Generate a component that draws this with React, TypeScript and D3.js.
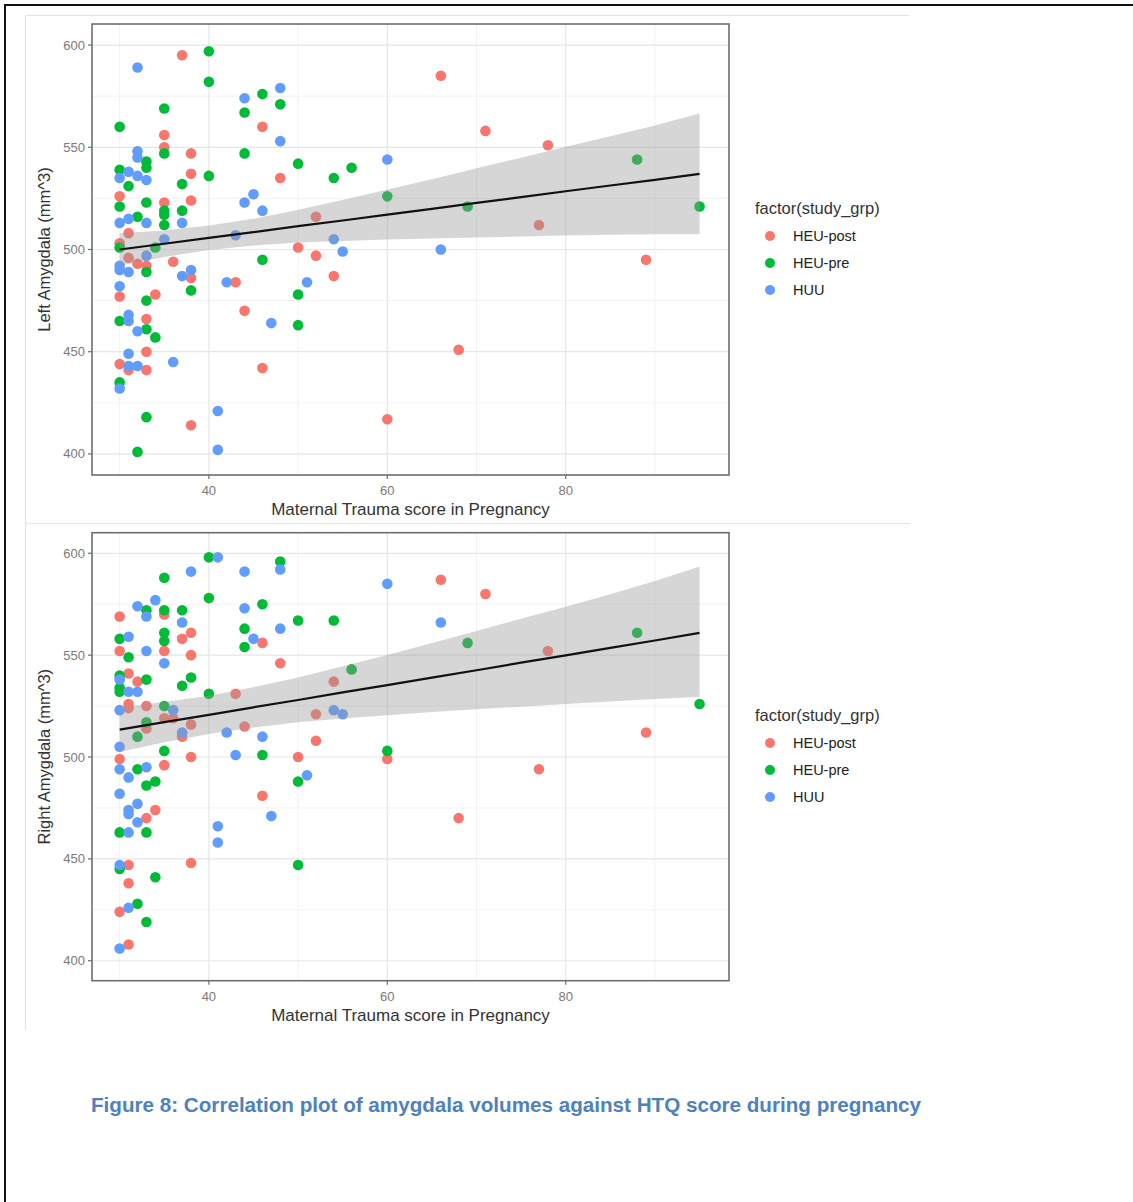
import * as d3 from 'd3'

// group colours (ggplot defaults)
const GROUPS = ['HEU-post', 'HEU-pre', 'HUU']
const COLORS: Record<string, string> = { 'HEU-post': '#F8766D', 'HEU-pre': '#00BA38', 'HUU': '#619CFF' }

const X_TICKS = [40, 60, 80]
const X_MINOR = [30, 50, 70, 90]
const Y_TICKS = [400, 450, 500, 550, 600]
const Y_MINOR = [425, 475, 525, 575]

// Left amygdala (top panel)
const leftHeuPost: [number, number][] = [
  [37, 595], [46, 560], [35, 556], [35, 550], [38, 547], [48, 535], [38, 537], [30, 526], [38, 524], [35, 523],
  [31, 508], [52, 516], [50, 501], [52, 497], [30, 503], [36, 494], [31, 496], [32, 493], [33, 492], [38, 486],
  [43, 484], [54, 487], [44, 470], [46, 442], [30, 477], [34, 478], [33, 466], [33, 450], [30, 444], [31, 441],
  [33, 441], [38, 414], [60, 417], [66, 585], [71, 558], [78, 551], [77, 512], [89, 495], [68, 451],
]
const leftHeuPre: [number, number][] = [
  [30, 560], [40, 597], [40, 582], [35, 569], [46, 576], [48, 571], [44, 567], [35, 547], [33, 543], [33, 540],
  [44, 547], [50, 542], [56, 540], [54, 535], [40, 536], [37, 532], [30, 539], [31, 531], [33, 523], [30, 521],
  [35, 519], [35, 517], [37, 519], [35, 512], [32, 516], [60, 526], [30, 501], [34, 501], [33, 489], [38, 480],
  [46, 495], [50, 478], [50, 463], [33, 475], [30, 465], [33, 461], [34, 457], [30, 435], [33, 418], [32, 401],
  [88, 544], [69, 521], [95, 521],
]
const leftHuu: [number, number][] = [
  [32, 589], [44, 574], [48, 579], [48, 553], [32, 548], [32, 545], [30, 535], [31, 538], [32, 536], [33, 534],
  [45, 527], [44, 523], [46, 519], [37, 513], [30, 513], [31, 515], [33, 513], [43, 507], [54, 505], [55, 499],
  [35, 505], [33, 497], [30, 492], [30, 490], [31, 489], [37, 487], [38, 490], [42, 484], [51, 484], [47, 464],
  [30, 482], [31, 468], [31, 465], [32, 460], [31, 449], [36, 445], [31, 443], [32, 443], [30, 432], [41, 421],
  [41, 402], [60, 544], [66, 500],
]

// Right amygdala (bottom panel)
const rightHeuPost: [number, number][] = [
  [30, 569], [35, 570], [38, 561], [37, 558], [46, 556], [30, 552], [35, 552], [38, 550], [48, 546], [31, 541],
  [32, 537], [54, 537], [43, 531], [31, 526], [31, 524], [33, 525], [35, 519], [36, 519], [52, 521], [33, 514],
  [38, 516], [44, 515], [37, 510], [52, 508], [38, 500], [50, 500], [60, 499], [30, 499], [35, 496], [46, 481],
  [34, 474], [33, 470], [31, 447], [38, 448], [31, 438], [30, 424], [31, 408], [66, 587], [71, 580], [78, 552],
  [89, 512], [77, 494], [68, 470],
]
const rightHeuPre: [number, number][] = [
  [40, 598], [48, 596], [35, 588], [40, 578], [46, 575], [33, 572], [35, 572], [37, 572], [50, 567], [54, 567],
  [44, 563], [35, 561], [35, 557], [30, 558], [31, 549], [44, 554], [56, 543], [30, 540], [33, 538], [38, 539],
  [37, 535], [30, 534], [30, 532], [40, 531], [35, 525], [33, 517], [32, 510], [35, 503], [46, 501], [60, 503],
  [32, 494], [33, 486], [34, 488], [50, 488], [30, 463], [33, 463], [50, 447], [30, 445], [34, 441], [32, 428],
  [33, 419], [69, 556], [88, 561], [95, 526],
]
const rightHuu: [number, number][] = [
  [41, 598], [48, 592], [38, 591], [44, 591], [60, 585], [34, 577], [32, 574], [44, 573], [33, 569], [37, 566],
  [48, 563], [45, 558], [31, 559], [33, 552], [35, 546], [30, 538], [31, 532], [32, 532], [30, 523], [36, 523],
  [54, 523], [55, 521], [37, 512], [42, 512], [46, 510], [30, 505], [43, 501], [30, 494], [33, 495], [31, 490],
  [51, 491], [30, 482], [32, 477], [31, 474], [31, 472], [32, 468], [47, 471], [41, 466], [41, 458], [31, 463],
  [30, 447], [31, 426], [30, 406], [66, 566],
]

// lm smooth
const fitX = [30, 35, 40, 45, 50, 55, 60, 65, 70, 75, 80, 85, 90, 95]
const leftFit = [500, 502.8, 505.7, 508.5, 511.4, 514.2, 517.1, 519.9, 522.8, 525.6, 528.5, 531.3, 534.1, 537]
const leftUpper = [508, 509.3, 511.7, 515, 519.4, 524.2, 529.3, 534.4, 539.7, 544.9, 550.2, 555.4, 560.7, 566.5]
const leftLower = [492, 496.3, 499.7, 502, 503.4, 504.2, 504.9, 505.4, 505.9, 506.3, 506.8, 507.2, 507.5, 507.5]
const rightFit = [513.4, 517.1, 520.7, 524.4, 528, 531.7, 535.3, 539, 542.6, 546.3, 549.9, 553.6, 557.2, 560.9]
const rightUpper = [524.4, 527, 530.1, 534.3, 539, 544.5, 550.1, 555.9, 561.8, 567.9, 573.8, 579.9, 586.4, 593.5]
const rightLower = [502.4, 507.2, 511.3, 514.5, 517, 518.9, 520.5, 522.1, 523.4, 524.7, 526, 527.3, 528.5, 529.5]

const FONT = '"Liberation Sans", Arial, sans-serif'
const PANEL_LEFT = 92
const PANEL_RIGHT = 729

type PanelProps = {
  top: number
  bottom: number
  yDomain: [number, number]
  yTitle: string
  series: [number, number][][]
  fit: number[]
  lower: number[]
  upper: number[]
  legendTop: number
}

function Panel({ top, bottom, yDomain, yTitle, series, fit, lower, upper, legendTop }: PanelProps) {
  const x = d3.scaleLinear().domain([26.9, 98.3]).range([PANEL_LEFT, PANEL_RIGHT])
  const y = d3.scaleLinear().domain(yDomain).range([bottom, top])

  const band = d3.area<number>()
    .x((_, i) => x(fitX[i]))
    .y0((_, i) => y(lower[i]))
    .y1((_, i) => y(upper[i]))
  const line = d3.line<number>()
    .x((_, i) => x(fitX[i]))
    .y(d => y(d))

  return (
    <g>
      {/* grid */}
      {X_MINOR.map(t => (
        <line key={'xm' + t} x1={x(t)} x2={x(t)} y1={top} y2={bottom} stroke="#f2f2f2" strokeWidth={1} />
      ))}
      {Y_MINOR.map(t => (
        <line key={'ym' + t} x1={PANEL_LEFT} x2={PANEL_RIGHT} y1={y(t)} y2={y(t)} stroke="#f2f2f2" strokeWidth={1} />
      ))}
      {X_TICKS.map(t => (
        <line key={'x' + t} x1={x(t)} x2={x(t)} y1={top} y2={bottom} stroke="#e6e6e6" strokeWidth={1.2} />
      ))}
      {Y_TICKS.map(t => (
        <line key={'y' + t} x1={PANEL_LEFT} x2={PANEL_RIGHT} y1={y(t)} y2={y(t)} stroke="#e6e6e6" strokeWidth={1.2} />
      ))}

      {/* points */}
      {series.map((pts, gi) =>
        pts.map((p, i) => (
          <circle key={gi + '-' + i} cx={x(p[0])} cy={y(p[1])} r={5.3} fill={COLORS[GROUPS[gi]]} />
        ))
      )}

      {/* smooth */}
      <path d={band(fit) || ''} fill="#999999" fillOpacity={0.4} />
      <path d={line(fit) || ''} fill="none" stroke="#111" strokeWidth={2.2} />

      {/* panel border */}
      <rect x={PANEL_LEFT} y={top} width={PANEL_RIGHT - PANEL_LEFT} height={bottom - top}
        fill="none" stroke="#6e6e6e" strokeWidth={1.6} />

      {/* y axis */}
      {Y_TICKS.map(t => (
        <g key={'yt' + t}>
          <line x1={PANEL_LEFT - 4} x2={PANEL_LEFT} y1={y(t)} y2={y(t)} stroke="#6e6e6e" strokeWidth={1.2} />
          <text x={PANEL_LEFT - 7} y={y(t)} dy="0.35em" textAnchor="end" fontSize={13}
            fill="#7a7a7a" fontFamily={FONT}>{t}</text>
        </g>
      ))}
      {/* x axis */}
      {X_TICKS.map(t => (
        <g key={'xt' + t}>
          <line x1={x(t)} x2={x(t)} y1={bottom} y2={bottom + 4} stroke="#6e6e6e" strokeWidth={1.2} />
          <text x={x(t)} y={bottom + 20} textAnchor="middle" fontSize={13}
            fill="#7a7a7a" fontFamily={FONT}>{t}</text>
        </g>
      ))}
      <text x={(PANEL_LEFT + PANEL_RIGHT) / 2} y={bottom + 40} textAnchor="middle" fontSize={17}
        fill="#333" fontFamily={FONT}>Maternal Trauma score in Pregnancy</text>
      <text transform={`translate(44,${(top + bottom) / 2}) rotate(-90)`} dy="0.35em" textAnchor="middle"
        fontSize={16.5} fill="#333" fontFamily={FONT}>{yTitle}</text>

      {/* legend */}
      <text x={755} y={legendTop + 6} fontSize={16.5} fill="#333" fontFamily={FONT}>factor(study_grp)</text>
      {GROUPS.map((g, i) => (
        <g key={g}>
          <circle cx={770} cy={legendTop + 28 + i * 27} r={5} fill={COLORS[g]} />
          <text x={793} y={legendTop + 28 + i * 27} dy="0.35em" fontSize={14.5} fill="#222"
            fontFamily={FONT}>{g}</text>
        </g>
      ))}
    </g>
  )
}

export default function App() {
  return (
    <>
      <style>{`body { margin: 0; }`}</style>
      <svg width={1133} height={1202} style={{ display: 'block', background: '#fff' }}>
        {/* page frame */}
        <line x1={5} x2={1133} y1={5} y2={5} stroke="#111" strokeWidth={2} />
        <line x1={5} x2={5} y1={4} y2={1202} stroke="#111" strokeWidth={2} />

        {/* pasted image edges */}
        <line x1={25} x2={909} y1={15.5} y2={15.5} stroke="#e2e2e2" strokeWidth={1} />
        <line x1={25.5} x2={25.5} y1={15} y2={1030} stroke="#e2e2e2" strokeWidth={1} />
        <line x1={25} x2={910} y1={523.5} y2={523.5} stroke="#e6e6e6" strokeWidth={1} />

        <Panel
          top={24}
          bottom={475}
          yDomain={[389.7, 610.3]}
          yTitle="Left Amygdala (mm^3)"
          series={[leftHeuPost, leftHeuPre, leftHuu]}
          fit={leftFit}
          lower={leftLower}
          upper={leftUpper}
          legendTop={208}
        />
        <Panel
          top={532.7}
          bottom={980.7}
          yDomain={[390.2, 610.1]}
          yTitle="Right Amygdala (mm^3)"
          series={[rightHeuPost, rightHeuPre, rightHuu]}
          fit={rightFit}
          lower={rightLower}
          upper={rightUpper}
          legendTop={715}
        />

        <text x={91} y={1112} fontSize={20.5} fontWeight="bold" fill="#4F81BD"
          fontFamily='"Liberation Sans Narrow", "Liberation Sans", Arial, sans-serif'
          textLength={830} lengthAdjust="spacingAndGlyphs">
          Figure 8: Correlation plot of amygdala volumes against HTQ score during pregnancy
        </text>
      </svg>
    </>
  )
}
